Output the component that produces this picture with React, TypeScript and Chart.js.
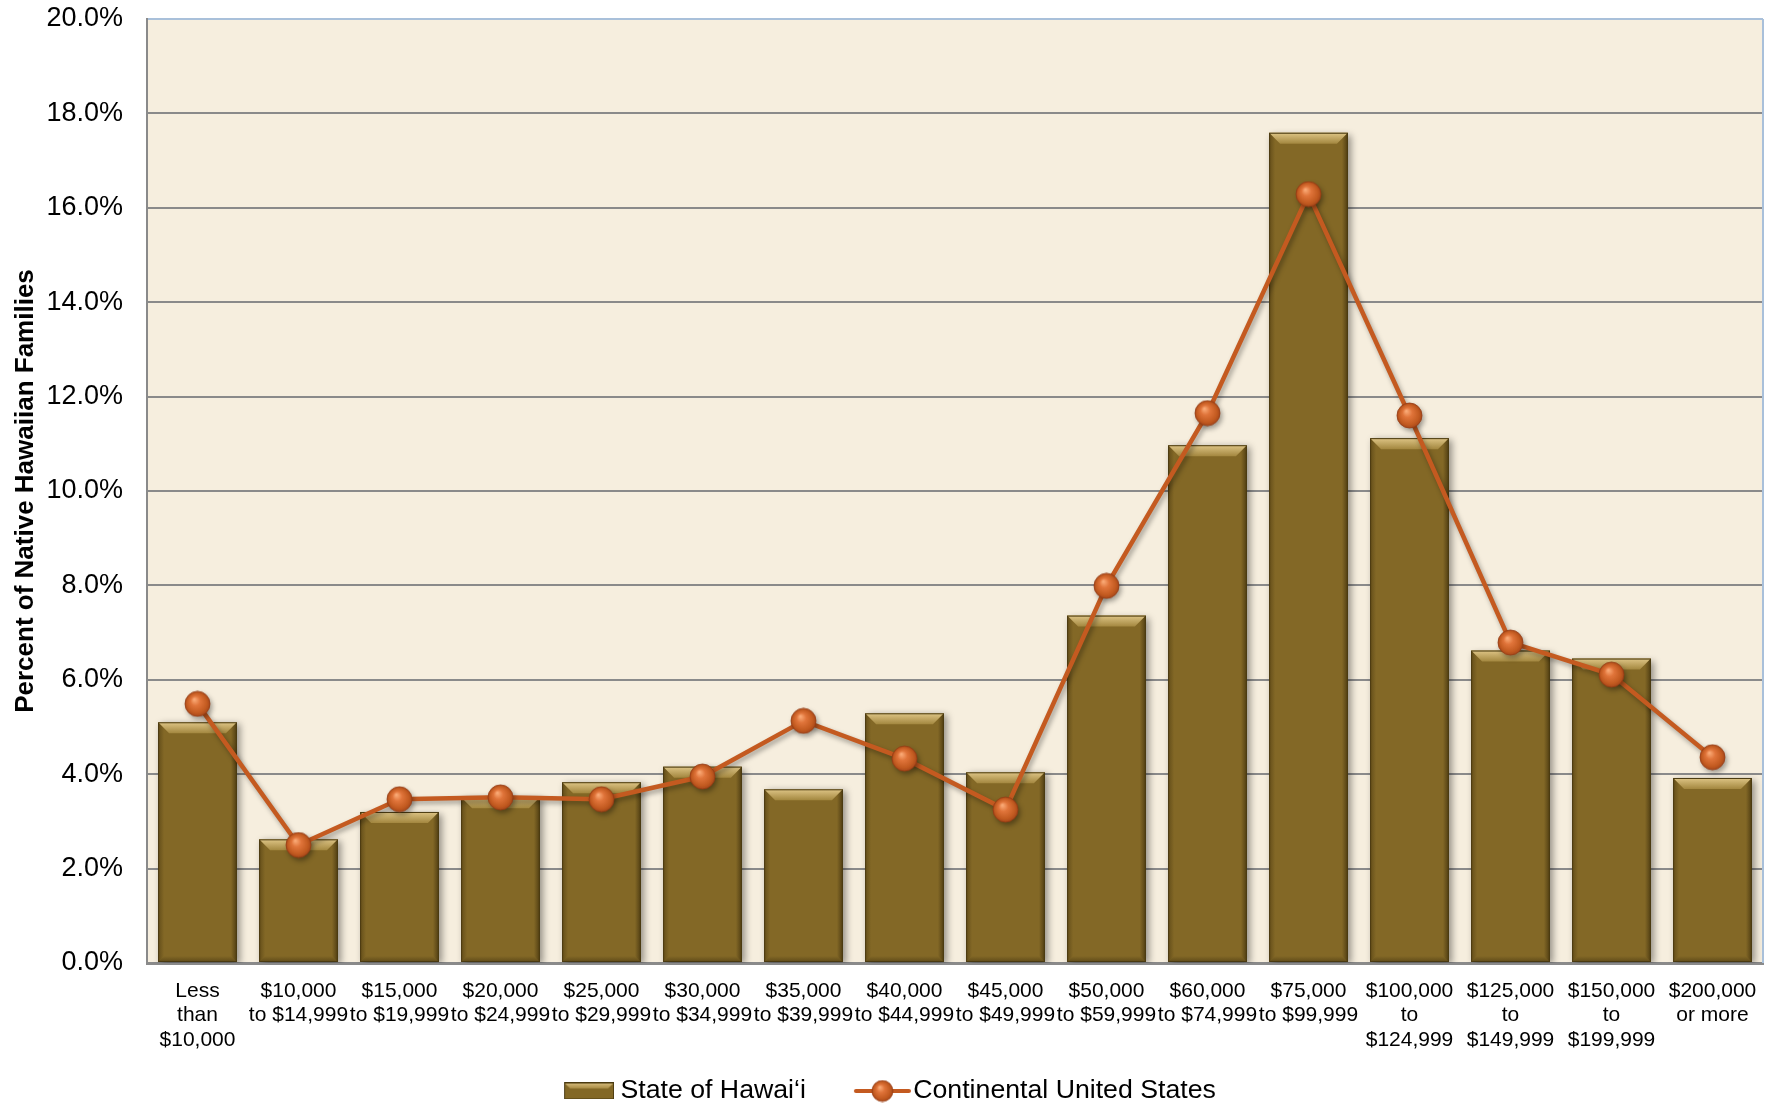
import React, { useEffect, useRef } from 'react';
import { Chart, registerables } from 'chart.js';

Chart.register(...registerables);

// ---------- data ----------
const CATEGORIES: string[][] = [
  ['Less', 'than', '$10,000'],
  ['$10,000', 'to $14,999'],
  ['$15,000', 'to $19,999'],
  ['$20,000', 'to $24,999'],
  ['$25,000', 'to $29,999'],
  ['$30,000', 'to $34,999'],
  ['$35,000', 'to $39,999'],
  ['$40,000', 'to $44,999'],
  ['$45,000', 'to $49,999'],
  ['$50,000', 'to $59,999'],
  ['$60,000', 'to $74,999'],
  ['$75,000', 'to $99,999'],
  ['$100,000', 'to', '$124,999'],
  ['$125,000', 'to', '$149,999'],
  ['$150,000', 'to', '$199,999'],
  ['$200,000', 'or more'],
];

const HAWAII: number[] = [5.10, 2.62, 3.20, 3.51, 3.83, 4.16, 3.68, 5.29, 4.04, 7.36, 10.97, 17.59, 11.12, 6.62, 6.45, 3.92];
const CONTINENTAL: number[] = [5.49, 2.50, 3.47, 3.51, 3.47, 3.95, 5.13, 4.33, 3.25, 7.99, 11.65, 16.29, 11.60, 6.79, 6.11, 4.36];

const Y_MIN = 0;
const Y_MAX = 20;
const Y_STEP = 2;

const BAR_LABEL = 'State of Hawai‘i';
const LINE_LABEL = 'Continental United States';
const Y_TITLE = 'Percent of Native Hawaiian Families';

// ---------- style ----------
const FONT = 'Liberation Sans, Arial, Helvetica, sans-serif';
const PLOT_BG = '#F6EEDE';
const GRID = '#8A8A8A';
const FRAME_BLUE = '#A9C0DA';
const BAR_FILL = '#836826';
const BAR_EDGE = '#4A3A10';
const LINE_COLOR = '#C45A20';

const PAD_LEFT = 10;
const Y_AXIS_WIDTH = 137;
const PLOT_TOP = 19;
const X_AXIS_HEIGHT = 70.6;
const LEGEND_HEIGHT = 70.4;
const LEGEND_PAD = 44;

function makeOrb(r: number): HTMLCanvasElement {
  const s = Math.ceil(r * 2 + 2);
  const c = document.createElement('canvas');
  c.width = s;
  c.height = s;
  const g = c.getContext('2d')!;
  const cx = s / 2;
  const cy = s / 2;
  const gr = g.createRadialGradient(cx - r * 0.25, cy - r * 0.35, r * 0.05, cx, cy, r);
  gr.addColorStop(0, '#F9A874');
  gr.addColorStop(0.35, '#E0743A');
  gr.addColorStop(0.8, '#C25A20');
  gr.addColorStop(1, '#A8481A');
  g.fillStyle = gr;
  g.beginPath();
  g.arc(cx, cy, r, 0, Math.PI * 2);
  g.fill();
  g.strokeStyle = 'rgba(150,60,20,0.8)';
  g.lineWidth = 1;
  g.stroke();
  return c;
}

// legend icon for the bars: 50x17 bevelled box, placed in the right part of a wider transparent canvas
function makeBarIcon(): HTMLCanvasElement {
  const w = 50;
  const h = 17;
  const W = 64;
  const ox = W - w;
  const c = document.createElement('canvas');
  c.width = W;
  c.height = h;
  const g = c.getContext('2d')!;
  g.fillStyle = BAR_FILL;
  g.fillRect(ox, 0, w, h);
  const t = 6;
  const gr = g.createLinearGradient(0, 0, 0, t);
  gr.addColorStop(0, '#DCC283');
  gr.addColorStop(1, '#A88B43');
  g.fillStyle = gr;
  g.beginPath();
  g.moveTo(ox, 0);
  g.lineTo(ox + w, 0);
  g.lineTo(ox + w - t, t);
  g.lineTo(ox + t, t);
  g.closePath();
  g.fill();
  g.strokeStyle = BAR_EDGE;
  g.lineWidth = 1;
  g.strokeRect(ox + 0.5, 0.5, w - 1, h - 1);
  return c;
}

function makeLineIcon(): HTMLCanvasElement {
  const w = 57;
  const h = 24;
  const W = 72;
  const ox = W - w;
  const c = document.createElement('canvas');
  c.width = W;
  c.height = h;
  const g = c.getContext('2d')!;
  g.strokeStyle = LINE_COLOR;
  g.lineWidth = 4;
  g.lineCap = 'round';
  g.beginPath();
  g.moveTo(ox + 2, h / 2);
  g.lineTo(ox + w - 2, h / 2);
  g.stroke();
  const orb = makeOrb(10.5);
  g.drawImage(orb, ox + w / 2 - orb.width / 2, h / 2 - orb.height / 2);
  return c;
}

function poly(ctx: CanvasRenderingContext2D, pts: number[][], fill: string | CanvasGradient) {
  ctx.beginPath();
  ctx.moveTo(pts[0][0], pts[0][1]);
  for (let i = 1; i < pts.length; i++) ctx.lineTo(pts[i][0], pts[i][1]);
  ctx.closePath();
  ctx.fillStyle = fill;
  ctx.fill();
}

const decorPlugin = {
  id: 'decor',
  afterLayout(chart: any) {
    // let the multi-line category labels extend below the (compact) axis box
    const x = chart.scales.x;
    if (x) x.bottom = chart.height;
  },
  beforeDraw(chart: any) {
    const { ctx, chartArea: a } = chart;
    ctx.save();
    ctx.fillStyle = PLOT_BG;
    ctx.fillRect(a.left, a.top, a.right - a.left, a.bottom - a.top);
    ctx.restore();
  },
  beforeDatasetDraw(chart: any, args: any) {
    const ctx = chart.ctx;
    ctx.save();
    if (args.index === 0) {
      ctx.shadowColor = 'rgba(0,0,0,0.40)';
      ctx.shadowBlur = 7;
      ctx.shadowOffsetX = 3;
      ctx.shadowOffsetY = 2;
    } else {
      ctx.shadowColor = 'rgba(0,0,0,0.35)';
      ctx.shadowBlur = 5;
      ctx.shadowOffsetX = 2;
      ctx.shadowOffsetY = 3;
    }
  },
  afterDatasetDraw(chart: any, args: any) {
    const ctx: CanvasRenderingContext2D = chart.ctx;
    ctx.restore();
    if (args.index !== 0) return;
    const meta = chart.getDatasetMeta(0);
    ctx.save();
    meta.data.forEach((el: any) => {
      const w = el.width;
      const L = el.x - w / 2;
      const R = el.x + w / 2;
      const T = el.y;
      const B = el.base;
      const t = Math.min(11, (B - T) / 2);
      const s = Math.min(6, (B - T) / 2);
      const gTop = ctx.createLinearGradient(0, T, 0, T + t);
      gTop.addColorStop(0, '#DEC586');
      gTop.addColorStop(1, '#A3873F');
      poly(ctx, [[L, T], [R, T], [R - t, T + t], [L + t, T + t]], gTop);
      const gL = ctx.createLinearGradient(L, 0, L + s, 0);
      gL.addColorStop(0, 'rgba(60,45,10,0.45)');
      gL.addColorStop(1, 'rgba(60,45,10,0)');
      poly(ctx, [[L, T], [L + t, T + t], [L + s, T + t], [L + s, B - s], [L, B]], gL);
      const gR = ctx.createLinearGradient(R, 0, R - s, 0);
      gR.addColorStop(0, 'rgba(45,33,6,0.6)');
      gR.addColorStop(1, 'rgba(45,33,6,0)');
      poly(ctx, [[R, T], [R - t, T + t], [R - s, T + t], [R - s, B - s], [R, B]], gR);
      const gB = ctx.createLinearGradient(0, B, 0, B - s);
      gB.addColorStop(0, 'rgba(50,38,8,0.45)');
      gB.addColorStop(1, 'rgba(50,38,8,0)');
      poly(ctx, [[L, B], [L + s, B - s], [R - s, B - s], [R, B]], gB);
      ctx.strokeStyle = BAR_EDGE;
      ctx.lineWidth = 1;
      ctx.strokeRect(L + 0.5, T + 0.5, w - 1, B - T - 1);
    });
    ctx.restore();
  },
  afterDraw(chart: any) {
    const { ctx, chartArea: a } = chart;
    ctx.save();
    ctx.strokeStyle = FRAME_BLUE;
    ctx.lineWidth = 2;
    ctx.beginPath();
    ctx.moveTo(a.right, a.top);
    ctx.lineTo(a.right, a.bottom);
    ctx.stroke();
    ctx.restore();
  },
};

export default function App() {
  const ref = useRef<HTMLCanvasElement>(null);

  useEffect(() => {
    document.body.style.margin = '0';
    const canvas = ref.current;
    if (!canvas) return;
    const orb = makeOrb(12.5);
    const barIcon = makeBarIcon();
    const lineIcon = makeLineIcon();

    const chart = new Chart(canvas, {
      type: 'bar',
      data: {
        labels: CATEGORIES,
        datasets: [
          {
            type: 'bar',
            label: BAR_LABEL,
            data: HAWAII,
            backgroundColor: BAR_FILL,
            borderColor: BAR_EDGE,
            borderWidth: 0,
            barPercentage: 0.78,
            categoryPercentage: 1,
            order: 1,
          },
          {
            type: 'line',
            label: LINE_LABEL,
            data: CONTINENTAL,
            borderColor: LINE_COLOR,
            borderWidth: 4.5,
            pointStyle: orb as any,
            pointRadius: 12.5,
            pointBackgroundColor: LINE_COLOR,
            tension: 0,
            order: 0,
          } as any,
        ],
      },
      options: {
        responsive: true,
        maintainAspectRatio: false,
        animation: false,
        layout: { padding: { left: PAD_LEFT, right: 19, top: 0, bottom: 0 } },
        plugins: {
          tooltip: { enabled: false },
          legend: {
            position: 'bottom',
            maxHeight: LEGEND_HEIGHT,
            labels: {
              usePointStyle: true,
              pointStyleWidth: 50,
              padding: LEGEND_PAD,
              color: '#000',
              font: { family: FONT, size: 26.7 },
              generateLabels: () => [
                {
                  text: BAR_LABEL,
                  pointStyle: barIcon as any,
                  fillStyle: 'rgba(0,0,0,0)',
                  strokeStyle: 'rgba(0,0,0,0)',
                  lineWidth: 0,
                  hidden: false,
                  datasetIndex: 0,
                  fontColor: '#000',
                },
                {
                  text: LINE_LABEL,
                  pointStyle: lineIcon as any,
                  fillStyle: 'rgba(0,0,0,0)',
                  strokeStyle: 'rgba(0,0,0,0)',
                  lineWidth: 0,
                  hidden: false,
                  datasetIndex: 1,
                  fontColor: '#000',
                },
              ],
            },
          },
        },
        scales: {
          x: {
            grid: { display: false, drawTicks: false },
            border: { display: true, color: GRID, width: 3 },
            ticks: {
              color: '#000',
              padding: 16,
              maxRotation: 0,
              autoSkip: false,
              font: { family: FONT, size: 21, lineHeight: 1.16 },
            },
            afterFit: (scale: any) => {
              scale.height = X_AXIS_HEIGHT;
            },
          },
          y: {
            min: Y_MIN,
            max: Y_MAX,
            ticks: {
              stepSize: Y_STEP,
              color: '#000',
              padding: 24,
              font: { family: FONT, size: 27 },
              callback: (v: any) => Number(v).toFixed(1) + '%',
            },
            grid: {
              drawTicks: false,
              lineWidth: 2,
              color: (c: any) => (c.tick && c.tick.value === Y_MAX ? FRAME_BLUE : GRID),
            },
            border: { display: true, color: GRID, width: 2 },
            title: {
              display: true,
              text: Y_TITLE,
              color: '#000',
              font: { family: FONT, size: 26, weight: 'bold' },
              padding: { top: 0, bottom: 4 },
            },
            afterFit: (scale: any) => {
              scale.width = Y_AXIS_WIDTH;
              scale.paddingTop = PLOT_TOP;
              scale.paddingBottom = 20;
            },
          },
        },
      },
      plugins: [decorPlugin],
    } as any);

    return () => chart.destroy();
  }, []);

  return (
    <div style={{ position: 'relative', width: 1782, height: 1104 }}>
      <canvas ref={ref} />
    </div>
  );
}
